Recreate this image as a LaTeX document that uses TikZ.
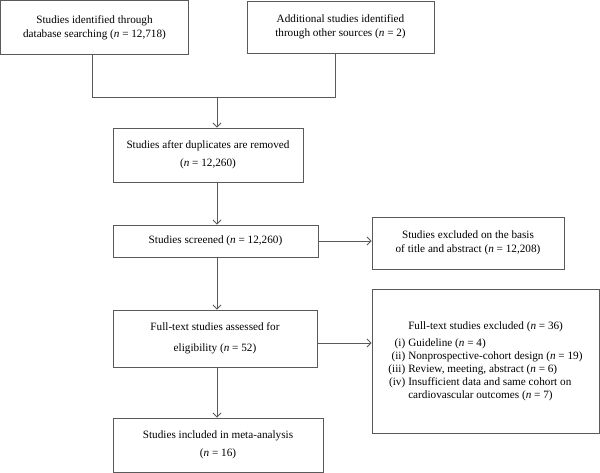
\documentclass[tikz,border=0pt]{standalone}
\usepackage{fontspec}
\setmainfont{Liberation Serif}
\usetikzlibrary{arrows.meta}
\definecolor{linegray}{HTML}{5A5A5A}
\newcommand{\nn}{\textit{n}}
\begin{document}
\begin{tikzpicture}[x=1pt,y=-1pt,
  box/.style={draw=linegray, line width=0.9pt, inner sep=0pt, align=center,
    font=\fontsize{11.2}{14}\selectfont, text=black},
  conn/.style={draw=linegray, line width=0.9pt},
  arr/.style={conn, -{Straight Barb[length=4pt,width=8pt,line width=0.9pt]}}]
\useasboundingbox (0,0) rectangle (600,473);
\node[box, minimum width=188pt, minimum height=54pt] (b1) at (94.5,27.5)
  {Studies identified through\\database searching (\nn{} = 12,718)};
\node[box, minimum width=187pt, minimum height=52pt] (b2) at (340.5,27)
  {Additional studies identified\\through other sources (\nn{} = 2)};
\node[box, minimum width=190pt, minimum height=54pt] (b3) at (208,155)
  {Studies after duplicates are removed\\[4pt](\nn{} = 12,260)};
\node[box, minimum width=205pt, minimum height=32pt] (b4) at (215.5,241)
  {Studies screened (\nn{} = 12,260)};
\node[box, minimum width=192pt, minimum height=52pt] (b5) at (468,243)
  {Studies excluded on the basis\\of title and abstract (\nn{} = 12,208)};
\node[box, minimum width=204pt, minimum height=57pt] (b7) at (215,338.5)
  {Full-text studies assessed for\\[7pt]eligibility (\nn{} = 52)};
\node[box, minimum width=227pt, minimum height=144pt, font=\fontsize{11.2}{12.8}\selectfont] (b6) at (485.5,361)
  {\begin{tabular}{@{}r@{\hspace{3pt}}l@{}}
   & Full-text studies excluded (\nn{} = 36)\\[5pt]
   (i) & Guideline (\nn{} = 4)\\
   (ii) & Nonprospective-cohort design (\nn{} = 19)\\
   (iii) & Review, meeting, abstract (\nn{} = 6)\\
   (iv) & Insufficient data and same cohort on\\
        & cardiovascular outcomes (\nn{} = 7)
   \end{tabular}};
\node[box, minimum width=210pt, minimum height=54pt] (b8) at (218,445)
  {Studies included in meta-analysis\\[4pt](\nn{} = 16)};
\coordinate (jl) at (92,97);
\coordinate (jr) at (335,97);
\coordinate (jm) at (217,97);
\draw[conn] (b1.south -| jl) -- (jl) -- (jr) -- (b2.south -| jr);
\draw[arr] (jm) -- (jm |- b3.north);
\draw[arr] (b3.south -| jm) -- (b4.north -| jm);
\draw[arr] (b4.south -| jm) -- (b7.north -| jm);
\draw[arr] (b7.south -| jm) -- (b8.north -| jm);
\draw[arr] (b4.east) -- (b4.east -| b5.west);
\draw[arr] ([yshift=-4.5pt]b7.east) -- ([yshift=-4.5pt]b7.east -| b6.west);
\end{tikzpicture}
\end{document}
